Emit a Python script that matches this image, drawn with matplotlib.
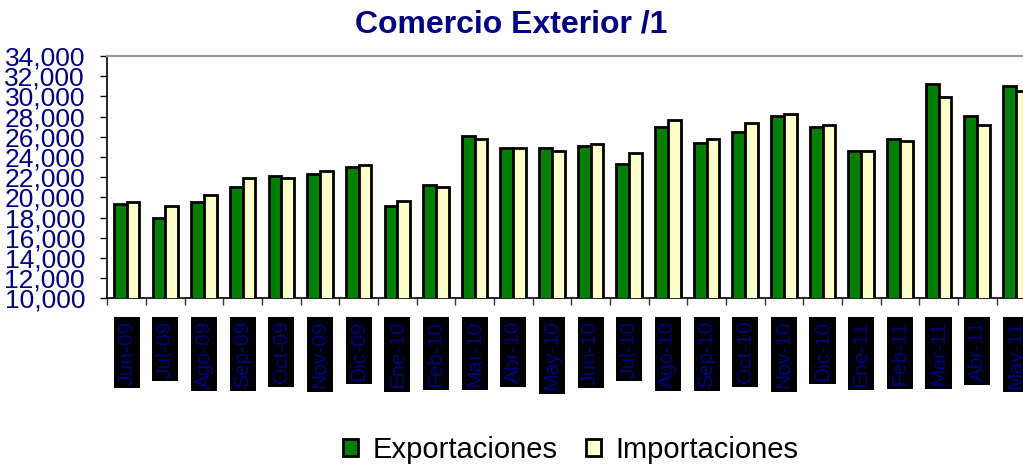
import matplotlib.pyplot as plt
import numpy as np

# -----------------------------
# DATA
# -----------------------------
meses = ["Jun-09", "Jul-09", "Ago-09", "Sep-09", "Oct-09", "Nov-09", "Dic-09",
         "Ene-10", "Feb-10", "Mar-10", "Abr-10", "May-10", "Jun-10", "Jul-10",
         "Ago-10", "Sep-10", "Oct-10", "Nov-10", "Dic-10", "Ene-11", "Feb-11",
         "Mar-11", "Abr-11", "May-11"]

exportaciones = [19385, 18000, 19580, 21010, 22130, 22360, 23025,
                 19160, 21210, 26030, 24880, 24880, 25110, 23290,
                 26925, 25340, 26470, 28050, 26925, 24640, 25800,
                 31260, 28050, 31030]

importaciones = [19580, 19190, 20280, 21900, 21900, 22600, 23250,
                 19620, 21010, 25800, 24880, 24640, 25310, 24410,
                 27620, 25800, 27390, 28280, 27160, 24640, 25570,
                 29900, 27160, 30560]

y_ticks = list(range(10000, 34001, 2000))

navy = "#000080"
green = "#008000"
cream = "#FFFFCC"

plt.rcParams["font.family"] = ["Liberation Sans", "DejaVu Sans"]

fig = plt.figure(figsize=(10.23, 4.65), dpi=100)
# axes run past the right edge, as in the original (last month is cut off)
ax = fig.add_axes([0.1049, 0.3585, 0.907, 0.521])

x = np.arange(len(meses))
w = 0.33
ax.bar(x - w / 2, exportaciones, w, color=green, edgecolor="black",
       linewidth=2, label="Exportaciones", zorder=3)
ax.bar(x + w / 2, importaciones, w, color=cream, edgecolor="black",
       linewidth=2, label="Importaciones", zorder=3)

ax.set_xlim(-0.5, len(meses) - 0.5)
ax.set_ylim(10000, 34000)
ax.set_yticks(y_ticks)
ax.set_yticklabels([f"{v:,}" for v in y_ticks], fontsize=19, color=navy)
ax.tick_params(axis="y", length=5, width=1, pad=11, direction="out")

ax.set_xticks(x)
ax.set_xticklabels(meses, rotation=90, fontsize=15, color=navy)
ax.set_xticks(np.arange(-0.5, len(meses), 1), minor=True)
ax.tick_params(axis="x", which="major", length=0, pad=16)
ax.tick_params(axis="x", which="minor", length=5, width=1, color="#333333")
for lab in ax.get_xticklabels():
    lab.set_bbox(dict(facecolor="black", edgecolor="none", pad=2.5))

ax.spines["top"].set_color("#999999")
ax.spines["top"].set_linewidth(1.5)
ax.spines["right"].set_visible(False)
ax.spines["left"].set_linewidth(1.2)
ax.spines["bottom"].set_linewidth(1.2)

fig.text(0.5, 0.947, "Comercio Exterior /1", ha="center", va="center",
         fontsize=23, fontweight="bold", color=navy)

fig.legend(loc="center", bbox_to_anchor=(0.558, 0.032), ncol=2, frameon=False,
           fontsize=21, handlelength=0.5, handleheight=0.5, handletextpad=0.5,
           columnspacing=1.0)

fig.savefig("out.png", dpi=100)
